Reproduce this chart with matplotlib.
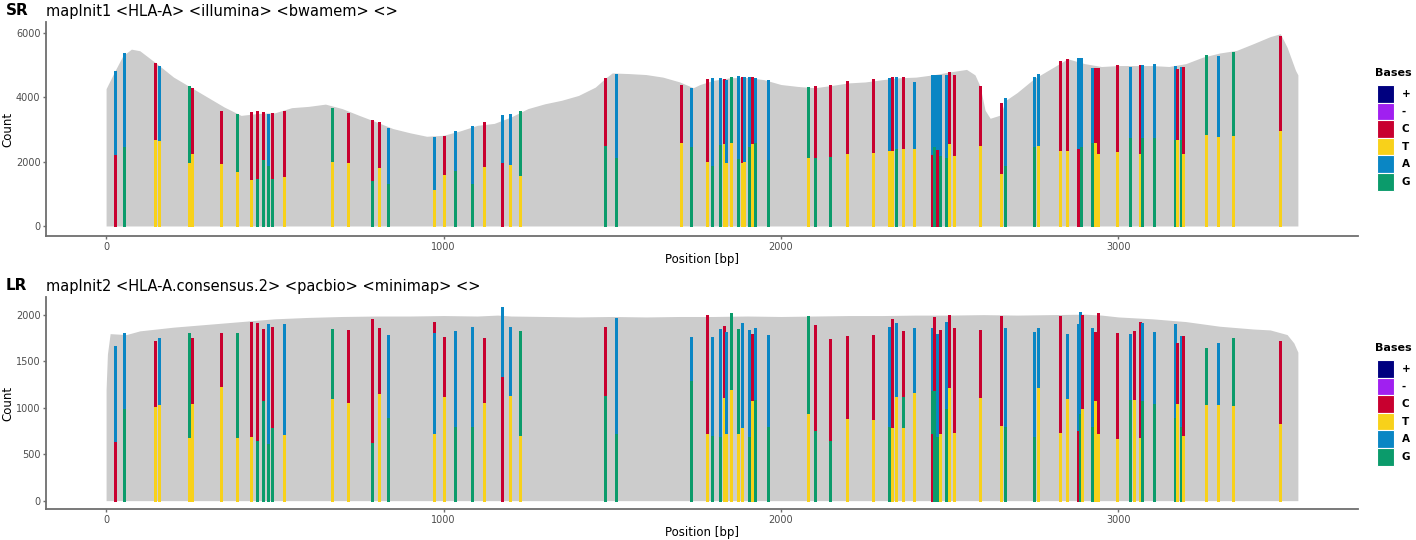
import matplotlib.pyplot as plt
from matplotlib.patches import Rectangle

# base colours (legend order)
base_names = ['+', '-', 'C', 'T', 'A', 'G']
base_colors = {'+': '#00007F', '-': '#A020F0', 'C': '#C8002F',
               'T': '#F8D11A', 'A': '#0A86C4', 'G': '#0B9B6B'}

# ---- short reads: coverage profile ----
sr_cov_pos = [0, 25, 50, 75, 100, 150, 200, 250, 300, 350, 400, 450, 500, 550, 600, 650,
              700, 750, 800, 850, 900, 950, 1000, 1050, 1100, 1150, 1200, 1250, 1300, 1350,
              1400, 1450, 1480, 1500, 1550, 1600, 1650, 1700, 1740, 1760, 1800, 1850, 1900,
              1950, 2000, 2050, 2100, 2150, 2200, 2250, 2300, 2350, 2400, 2450, 2500, 2550,
              2575, 2590, 2605, 2620, 2650, 2665, 2700, 2750, 2800, 2850, 2900, 2950, 3000,
              3050, 3100, 3150, 3200, 3250, 3300, 3350, 3400, 3450, 3480, 3500, 3525, 3532]
sr_cov = [4270, 4800, 5300, 5500, 5450, 5050, 4630, 4320, 4010, 3700, 3440, 3500, 3520, 3680,
          3720, 3790, 3650, 3440, 3240, 3030, 2900, 2790, 2820, 2960, 3130, 3190, 3390, 3650,
          3800, 3910, 4060, 4320, 4600, 4760, 4740, 4710, 4630, 4480, 4300, 4400, 4530, 4610,
          4620, 4550, 4400, 4340, 4300, 4370, 4450, 4480, 4550, 4610, 4630, 4700, 4790, 4870,
          4700, 4350, 3600, 3350, 3450, 3900, 4150, 4580, 4890, 5200, 5050, 4960, 4990, 4990,
          4990, 4960, 5050, 5250, 5380, 5460, 5670, 5890, 5980, 5560, 4840, 4700]

# ---- short reads: variant positions, bases (bottom -> top) and cumulative tops ----
sr_pos = [27, 53, 146, 158, 246, 255, 341, 388, 430, 447, 465, 479, 493, 527, 671, 718, 789,
          808, 835, 972, 1001, 1033, 1084, 1119, 1172, 1197, 1226, 1478, 1510, 1703, 1733,
          1781, 1795, 1820, 1830, 1838, 1851, 1874, 1885, 1892, 1905, 1915, 1923, 1963, 2081,
          2102, 2144, 2197, 2273, 2321, 2328, 2341, 2362, 2394, 2447, 2455, 2462, 2470, 2489,
          2498, 2513, 2589, 2652, 2664, 2750, 2761, 2827, 2849, 2880, 2888, 2921, 2930, 2939,
          2997, 3034, 3063, 3070, 3107, 3167, 3175, 3186, 3193, 3261, 3294, 3341, 3479]
sr_bases = ['CA', 'GA', 'TC', 'TA', 'TG', 'TC', 'TC', 'TG', 'TC', 'GC', 'GC', 'GA', 'GC', 'TC',
            'TG', 'TC', 'GC', 'TC', 'GA', 'TA', 'TC', 'GA', 'GA', 'TC', 'CA', 'TA', 'TG', 'GC',
            'GA', 'TC', 'GA', 'TC', 'GA', 'GA', 'TC', 'TA', 'TG', 'GA', 'TC', 'TA', 'GA', 'TC',
            'GA', 'GA', 'TG', 'GC', 'GC', 'TC', 'TC', 'TA', 'TC', 'GA', 'TC', 'TA', 'CA', 'GA',
            'CA', 'GA', 'GA', 'TC', 'TC', 'TC', 'TC', 'GA', 'GA', 'TA', 'TC', 'TC', 'CA', 'GA',
            'GA', 'TC', 'TC', 'TC', 'GA', 'TC', 'GA', 'GA', 'GA', 'TC', 'GA', 'TC', 'TG', 'TA',
            'TG', 'TC']
sr_tops = [[2240, 4820], [2500, 5380], [2720, 5080], [2670, 4970], [2000, 4360], [2260, 4280],
           [1970, 3585], [1720, 3470], [1460, 3550], [1480, 3570], [2070, 3550], [1900, 3490],
           [1480, 3500], [1560, 3585], [2010, 3670], [1980, 3520], [1430, 3290], [1830, 3240],
           [1330, 3060], [1150, 2760], [1620, 2800], [1750, 2950], [1330, 3110], [1875, 3220],
           [2000, 3450], [1930, 3470], [1585, 3585], [2520, 4600], [2150, 4740], [2600, 4370],
           [2500, 4300], [2020, 4570], [1900, 4590], [2550, 4600], [2590, 4560], [2000, 4530],
           [2620, 4640], [2100, 4660], [2000, 4640], [2020, 4630], [2500, 4640], [2590, 4620],
           [2620, 4610], [2070, 4530], [2150, 4330], [2150, 4360], [2180, 4380], [2260, 4510],
           [2310, 4580], [2350, 4600], [2360, 4620], [2410, 4640], [2410, 4620], [2410, 4490],
           [2250, 4690], [2500, 4690], [2400, 4690], [2200, 4690], [2150, 4700], [2590, 4780],
           [2210, 4710], [2520, 4350], [1660, 3830], [1900, 3970], [2500, 4640], [2520, 4720],
           [2360, 5140], [2360, 5190], [2410, 5210], [2500, 5240], [2620, 4900], [2620, 4900],
           [2260, 4900], [2330, 5000], [2770, 4950], [2260, 5000], [2780, 5000], [2780, 5030],
           [2700, 4970], [2720, 4870], [2700, 4930], [2260, 4930], [2860, 5310], [2800, 5280],
           [2830, 5420], [2980, 5920]]

# ---- long reads: coverage profile ----
lr_cov_pos = [0, 4, 12, 60, 100, 200, 300, 400, 500, 600, 700, 800, 900, 1000, 1100, 1160,
              1200, 1300, 1400, 1500, 1600, 1700, 1800, 1900, 2000, 2100, 2200, 2300, 2400,
              2500, 2600, 2700, 2800, 2900, 2950, 3000, 3100, 3200, 3300, 3400, 3450, 3500,
              3520, 3532]
lr_cov = [1200, 1580, 1800, 1790, 1830, 1870, 1900, 1930, 1960, 1975, 1985, 1990, 1990, 1995,
          1990, 2000, 1990, 1985, 1980, 1985, 1980, 1985, 1985, 1990, 1985, 1990, 1995, 1995,
          2000, 2000, 2005, 2000, 2005, 2010, 2000, 1980, 1960, 1930, 1880, 1850, 1840, 1790,
          1700, 1600]

# ---- long reads: variants ----
lr_pos = [27, 53, 146, 158, 246, 255, 341, 388, 430, 447, 465, 479, 493, 527, 671, 718, 789,
          808, 835, 972, 1001, 1033, 1084, 1119, 1172, 1197, 1226, 1478, 1510, 1733, 1781,
          1795, 1820, 1830, 1838, 1851, 1874, 1885, 1905, 1915, 1923, 1963, 2081, 2102, 2144,
          2197, 2273, 2321, 2328, 2341, 2362, 2394, 2447, 2455, 2462, 2470, 2489, 2498, 2513,
          2589, 2652, 2664, 2750, 2761, 2827, 2849, 2880, 2886, 2892, 2921, 2930, 2939, 2997,
          3034, 3045, 3063, 3070, 3107, 3167, 3175, 3186, 3193, 3261, 3294, 3341, 3479]
lr_bases = ['CA', 'GA', 'TC', 'TA', 'TG', 'TC', 'TC', 'TG', 'TC', 'GC', 'GC', 'GA', 'GC', 'TA',
            'TG', 'TC', 'GC', 'TC', 'GA', 'TAC', 'TC', 'GA', 'GA', 'TC', 'CA', 'TA', 'TG', 'GC',
            'GA', 'GA', 'TC', 'GA', 'GA', 'TC', 'TA', 'TG', 'TG', 'TA', 'GA', 'TC', 'GA', 'GA',
            'TG', 'GC', 'GC', 'TC', 'TC', 'GA', 'TC', 'TA', 'TGC', 'TA', 'CGA', 'GC', 'GA', 'TC',
            'GA', 'TC', 'TC', 'TC', 'TC', 'GA', 'GA', 'TA', 'TC', 'TA', 'CA', 'GA', 'TC', 'GA',
            'TC', 'TC', 'TC', 'GA', 'TC', 'TC', 'GA', 'GA', 'GA', 'TC', 'GA', 'TC', 'TG', 'TA',
            'TG', 'TC']
lr_tops = [[646, 1666], [1000, 1810], [1020, 1723], [1040, 1748], [690, 1802], [1048, 1748],
           [1235, 1802], [682, 1802], [700, 1928], [653, 1910], [1080, 1850], [620, 1900],
           [790, 1874], [720, 1900], [1110, 1845], [1066, 1838], [635, 1955], [1156, 1856],
           [900, 1790], [730, 1820, 1928], [1127, 1766], [800, 1830], [800, 1874], [1066, 1748],
           [1340, 2090], [1138, 1867], [707, 1827], [1138, 1874], [725, 1964], [1300, 1766],
           [725, 2000], [707, 1766], [700, 1845], [1120, 1881], [725, 1813], [1199, 2018],
           [725, 1845], [790, 1910], [700, 1838], [1084, 1800], [1100, 1856], [800, 1784],
           [948, 1989], [761, 1892], [653, 1738], [887, 1773], [876, 1784], [800, 1870],
           [797, 1953], [1127, 1910], [790, 1127, 1831], [1174, 1856], [725, 1190, 1856],
           [1190, 1980], [700, 1800], [725, 1838], [1000, 1928], [1228, 2000], [743, 1856],
           [1120, 1838], [815, 1989], [800, 1856], [700, 1820], [1228, 1856], [743, 1989],
           [1110, 1800], [760, 1900], [940, 2030], [1000, 2000], [800, 1856], [1084, 1820],
           [725, 2018], [679, 1802], [1100, 1800], [1100, 1830], [690, 1928], [1084, 1910],
           [1050, 1820], [900, 1900], [1055, 1694], [800, 1780], [707, 1773], [1041, 1640],
           [1041, 1700], [1030, 1748], [840, 1720]]

panels = [
    ('SR', 'mapInit1 <HLA-A> <illumina> <bwamem> <>', sr_cov_pos, sr_cov, sr_pos, sr_bases,
     sr_tops, [0, 2000, 4000, 6000], (-311, 6340)),
    ('LR', 'mapInit2 <HLA-A.consensus.2> <pacbio> <minimap> <>', lr_cov_pos, lr_cov, lr_pos,
     lr_bases, lr_tops, [0, 500, 1000, 1500, 2000], (-90, 2195)),
]

fig = plt.figure(figsize=(14.16, 5.4), dpi=100)
axes_boxes = [[0.0325, 0.563, 0.9265, 0.396], [0.0325, 0.0574, 0.9265, 0.3926]]
axis_grey = '#6E6E6E'

for i, (tag, title, cpos, cov, vpos, vbases, vtops, yticks, ylim) in enumerate(panels):
    ax = fig.add_axes(axes_boxes[i])
    ax.fill_between(cpos, cov, 0, color='#CCCCCC', lw=0)
    for p, bases, tops in zip(vpos, vbases, vtops):
        bottom = 0
        for b, t in zip(bases, tops):
            ax.vlines(p, bottom, t, colors=base_colors[b], linewidth=1.0,
                      antialiased=False, capstyle='butt')
            bottom = t
    ax.set_xlim(-178, 3710)
    ax.set_ylim(*ylim)
    ax.set_yticks(yticks)
    ax.set_xticks([0, 1000, 2000, 3000])
    for s in ['top', 'right']:
        ax.spines[s].set_visible(False)
    for s in ['left', 'bottom']:
        ax.spines[s].set_color(axis_grey)
        ax.spines[s].set_linewidth(1.3)
    ax.tick_params(colors=axis_grey, labelcolor='#4D4D4D', labelsize=7, length=2.5,
                   width=1, pad=1.5)
    ax.set_xlabel('Position [bp]', fontsize=8.5, labelpad=1)
    ax.set_ylabel('Count', fontsize=8.5, labelpad=1)

    top = axes_boxes[i][1] + axes_boxes[i][3]
    fig.text(0.004, top + 0.022, tag, fontsize=11, fontweight='bold', va='center')
    fig.text(0.0325, top + 0.02, title, fontsize=10.5, va='center')

    # legend drawn as boxes to the right of the panel
    ly = 1 - (73 if i == 0 else 348) / 540
    fig.text(1375 / 1416, ly, 'Bases', fontsize=8, fontweight='bold', va='center')
    for k, b in enumerate(base_names):
        y0 = ly - (12 + 17.6 * (k + 1)) / 540
        fig.add_artist(Rectangle((1377 / 1416, y0), 17 / 1416, 17.6 / 540,
                                 transform=fig.transFigure, facecolor=base_colors[b],
                                 edgecolor='white', lw=0.8))
        fig.text(1402 / 1416, y0 + 8.8 / 540, b, fontsize=7.5, fontweight='bold', va='center')

fig.savefig('out.png', dpi=100)
